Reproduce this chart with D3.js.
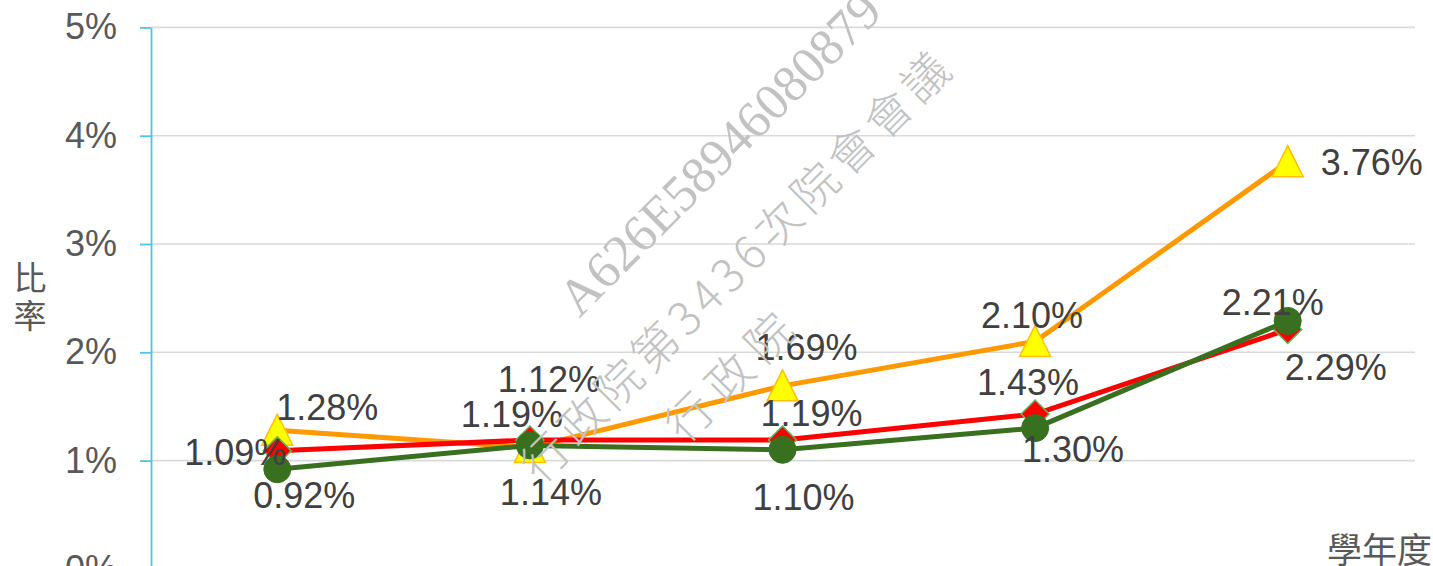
<!DOCTYPE html>
<html>
<head>
<meta charset="utf-8">
<script src="https://cdn.jsdelivr.net/npm/d3@7"></script>
<style>
  body { margin: 0; background: #fff; }
  svg { display: block; }
</style>
</head>
<body>
<script>
// data
var categories = ["1", "2", "3", "4", "5"];
var orangeValues = [1.28, 1.12, 1.69, 2.10, 3.76];
var redValues = [1.09, 1.19, 1.19, 1.43, 2.21];
var greenValues = [0.92, 1.14, 1.10, 1.30, 2.29];
var yTicks = [0, 1, 2, 3, 4, 5];
var yTitle = "比率";
var xTitle = "學年度";
var watermarkLines = ["A626E58946080879", "行政院第3436次院會會議", "行政院"];

// label placement (dx, dy from the point, baseline)
var orangeLabelPos = [[50, -10], [19, -56], [24, -26], [-3, -13], [84, 13]];
var redLabelPos = [[-42, 14], [-18, -13], [29, -14], [-7, -19], [-15, -15]];
var greenLabelPos = [[27, 39], [21, 60], [21, 60], [38, 34], [48, 59]];

var width = 1433, height = 566;
var latin = "'Liberation Sans', Arial, sans-serif";
var cjk = "'Noto Sans CJK TC', 'Noto Sans CJK SC', sans-serif";

var svg = d3.select("body").append("svg")
    .attr("width", width)
    .attr("height", height);

var x = d3.scalePoint()
    .domain(categories)
    .range([151, 1414])
    .padding(0.5);

var y = d3.scaleLinear()
    .domain([0, 5])
    .range([568.9, 27.4]);

// gridlines
svg.append("g")
  .selectAll("line")
  .data(yTicks.filter(d => d > 0))
  .enter().append("line")
    .attr("x1", 151)
    .attr("x2", 1415)
    .attr("y1", d => y(d))
    .attr("y2", d => y(d))
    .attr("stroke", "#d9d9d9")
    .attr("stroke-width", 1.6);

// y axis
var yAxis = svg.append("g")
    .attr("transform", "translate(151,0)")
    .call(d3.axisLeft(y)
      .tickValues(yTicks)
      .tickSize(11)
      .tickSizeOuter(0)
      .tickPadding(23)
      .tickFormat(d => d + "%"));

yAxis.select(".domain").attr("stroke", "#4fc3f0").attr("stroke-width", 1.8);
yAxis.selectAll(".tick line").attr("stroke", "#4fc3f0").attr("stroke-width", 1.8);
yAxis.selectAll(".tick text")
    .attr("fill", "#595959")
    .style("font-family", latin)
    .style("font-size", "36px");

// axis titles
svg.append("text")
    .attr("x", 30)
    .attr("y", 299)
    .attr("text-anchor", "middle")
    .attr("fill", "#595959")
    .style("writing-mode", "vertical-rl")
    .style("letter-spacing", "5px")
    .style("font-family", cjk)
    .style("font-size", "33px")
    .text(yTitle);

svg.append("text")
    .attr("x", 1432)
    .attr("y", 547)
    .attr("text-anchor", "end")
    .attr("dominant-baseline", "central")
    .attr("fill", "#595959")
    .style("font-family", cjk)
    .style("font-size", "35px")
    .text(xTitle);

var line = d3.line()
    .x((d, i) => x(categories[i]))
    .y(d => y(d));

function drawSeries(values, color, lineWidth, marker) {
  var g = svg.append("g");
  g.append("path")
      .datum(values)
      .attr("fill", "none")
      .attr("stroke", color)
      .attr("stroke-width", lineWidth)
      .attr("stroke-linejoin", "round")
      .attr("d", line);

  var m = g.selectAll(".m")
      .data(values)
      .enter().append("path")
      .attr("class", "m")
      .attr("transform", (d, i) => "translate(" + x(categories[i]) + "," + y(d) + ")");

  if (marker == "triangle") {
    m.attr("d", "M0,-16L15.5,15L-15.5,15Z")
      .attr("fill", "#ffff00")
      .attr("stroke", "#ffc000")
      .attr("stroke-width", 1.5);
  } else if (marker == "diamond") {
    m.attr("d", "M0,-14L14,0L0,14L-14,0Z")
      .attr("fill", "#ff0000")
      .attr("stroke", "#5cb85c")
      .attr("stroke-width", 1.5);
  } else {
    m.attr("d", d3.symbol().type(d3.symbolCircle).size(Math.PI * 13.5 * 13.5))
      .attr("fill", color)
      .attr("stroke", color);
  }
}

drawSeries(orangeValues, "#ff9900", 5, "triangle");
drawSeries(redValues, "#ff0000", 5, "diamond");
drawSeries(greenValues, "#38701f", 5, "circle");

// data labels
function drawLabels(values, pos) {
  svg.append("g")
    .selectAll("text")
    .data(values)
    .enter().append("text")
      .attr("x", (d, i) => x(categories[i]) + pos[i][0])
      .attr("y", (d, i) => y(d) + pos[i][1])
      .attr("text-anchor", "middle")
      .attr("fill", "#404040")
      .style("font-family", latin)
      .style("font-size", "36px")
      .text(d => d.toFixed(2) + "%");
}

drawLabels(orangeValues, orangeLabelPos);
drawLabels(redValues, redLabelPos);
drawLabels(greenValues, greenLabelPos);

// watermark
var wm = svg.append("g")
    .attr("fill", "#c2c2c2")
    .attr("text-anchor", "middle");

wm.append("text")
    .attr("transform", "translate(732,166) rotate(-45)")
    .attr("textLength", 431)
    .attr("lengthAdjust", "spacingAndGlyphs")
    .style("font-family", "'Liberation Serif', 'DejaVu Serif', serif")
    .style("font-size", "52px")
    .text(watermarkLines[0]);

wm.append("text")
    .attr("transform", "translate(733,265) rotate(-45)")
    .attr("dominant-baseline", "central")
    .attr("textLength", 583)
    .attr("lengthAdjust", "spacing")
    .style("font-family", cjk)
    .style("font-weight", 300)
    .style("font-size", "46px")
    .text(watermarkLines[1]);

wm.append("text")
    .attr("transform", "translate(727,375) rotate(-45)")
    .attr("dominant-baseline", "central")
    .attr("textLength", 158)
    .attr("lengthAdjust", "spacing")
    .style("font-family", cjk)
    .style("font-weight", 300)
    .style("font-size", "46px")
    .text(watermarkLines[2]);
</script>
</body>
</html>
